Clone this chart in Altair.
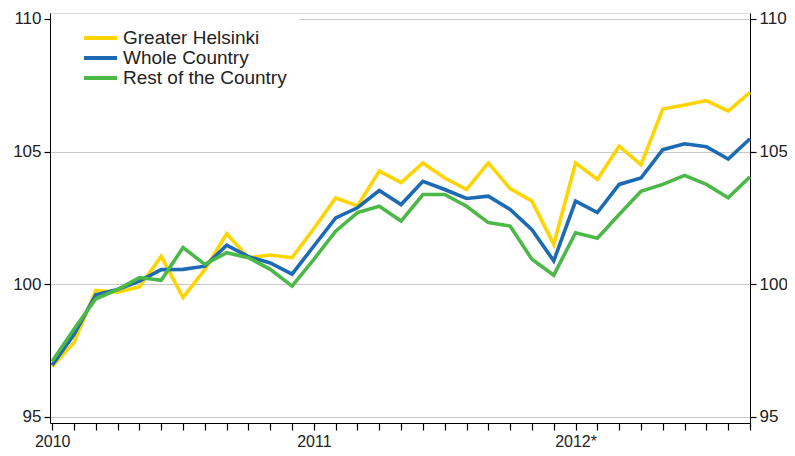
import altair as alt
import pandas as pd

months = list(range(33))
year_labels = {0: "2010", 12: "2011", 24: "2012*"}
series_names = ["Greater Helsinki", "Whole Country", "Rest of the Country"]
helsinki = [96.9, 97.8, 99.77, 99.7, 99.9, 101.05, 99.5, 100.55, 101.9, 101.0, 101.1, 101.0,
            102.1, 103.25, 102.95, 104.26, 103.83, 104.57, 104.0, 103.57, 104.57, 103.6, 103.13, 101.5,
            104.57, 103.95, 105.2, 104.5, 106.6, 106.75, 106.92, 106.52, 107.23]
whole = [96.95, 98.1, 99.6, 99.8, 100.12, 100.55, 100.56, 100.68, 101.47, 101.04, 100.8, 100.38,
         101.44, 102.5, 102.88, 103.53, 103.0, 103.88, 103.57, 103.23, 103.32, 102.82, 102.05, 100.88,
         103.13, 102.7, 103.76, 104.0, 105.07, 105.29, 105.18, 104.72, 105.48]
rest = [97.1, 98.3, 99.45, 99.8, 100.25, 100.15, 101.38, 100.75, 101.19, 101.0, 100.56, 99.93,
        100.94, 102.0, 102.7, 102.94, 102.38, 103.38, 103.38, 102.94, 102.32, 102.19, 100.94, 100.34,
        101.94, 101.73, 102.63, 103.5, 103.76, 104.1, 103.76, 103.26, 104.05]
y_ticks = [95, 100, 105, 110]
colors = ["#FFD400", "#1C6AB4", "#4BB847"]

rows = []
for name, vals in zip(series_names, [helsinki, whole, rest]):
    for m, v in zip(months, vals):
        rows.append({"month": m, "series": name, "value": v})
df = pd.DataFrame(rows)

label_expr = " : ".join(
    [f"datum.value == {k} ? '{v}'" for k, v in year_labels.items()]
) + " : ''"

FONT = "Liberation Sans"
TXT = "#222222"

x_enc = alt.X(
    "month:Q",
    scale=alt.Scale(domain=[-0.1, 32], nice=False, zero=False),
    axis=alt.Axis(
        values=months, labelExpr=label_expr, grid=False, title=None,
        domainColor="black", tickColor="black", tickSize=7, tickWidth=1.2,
        labelFontSize=16, labelColor=TXT, labelPadding=3,
        labelFlush=False, labelOverlap=False, labelFont=FONT,
    ),
)

y_scale = alt.Scale(domain=[94.77, 110.22], nice=False, zero=False)

y_left = alt.Y(
    "value:Q", scale=y_scale,
    axis=alt.Axis(
        values=y_ticks, grid=True, gridColor="#c8c8c8", gridWidth=1.2, title=None,
        domainColor="black", tickColor="black", tickSize=6, tickWidth=1.2,
        labelFontSize=17, labelColor=TXT, labelPadding=3, labelFont=FONT,
    ),
)
y_right = alt.Y(
    "value:Q", scale=y_scale,
    axis=alt.Axis(
        orient="right", values=y_ticks, grid=False, title=None,
        domainColor="black", tickColor="black", tickSize=6, tickWidth=1.2,
        labelFontSize=17, labelColor=TXT, labelPadding=3, labelFont=FONT,
    ),
)

color_enc = alt.Color(
    "series:N",
    scale=alt.Scale(domain=series_names, range=colors),
    legend=alt.Legend(
        orient="none", legendX=2, legendY=3, title=None,
        fillColor="white", padding=12, symbolType="stroke",
        symbolSize=1089, symbolStrokeWidth=4, labelFontSize=19,
        labelFont=FONT, labelColor=TXT, labelOffset=4, clipHeight=20,
        symbolOffset=18, rowPadding=0, labelLimit=400,
    ),
)

left = alt.Chart(df).mark_line(strokeWidth=3.6).encode(
    x=x_enc, y=y_left, color=color_enc,
    order="month:Q",
)
right = alt.Chart(df).mark_line(strokeWidth=3.6, opacity=0).encode(
    x=x_enc, y=y_right, detail="series:N",
)

chart = alt.layer(left, right).resolve_axis(y="independent").properties(
    width=700, height=410,
    autosize=alt.AutoSizeParams(type="none"),
    padding={"left": 42, "top": 5, "right": 37, "bottom": 25},
).configure_view(stroke="black", strokeWidth=1.2).configure(font=FONT)

chart.save("out.html", embed_options={"renderer": "svg", "actions": False})
